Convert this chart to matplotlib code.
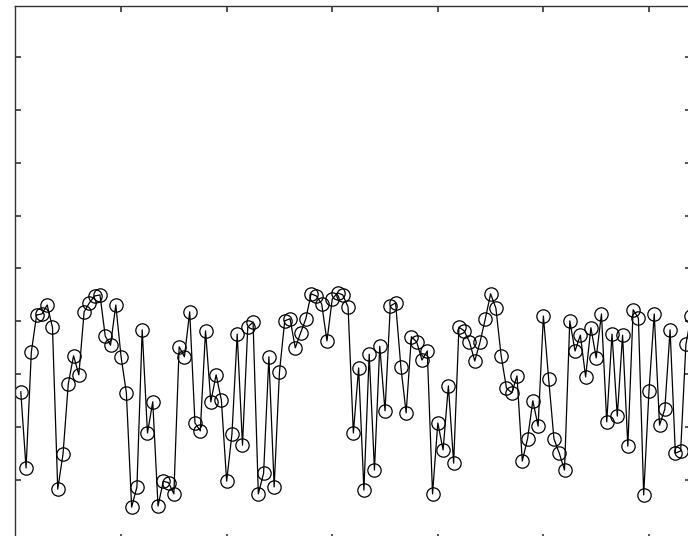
import numpy as np
import matplotlib
matplotlib.use('Agg')
import matplotlib.pyplot as plt

# sample values, one per index 1..128
values = [
    2.67, 1.23, 3.42, 4.12, 4.14, 4.31, 3.89, 0.83, 1.49, 2.82,
    3.35, 2.99, 4.18, 4.35, 4.48, 4.50, 3.72, 3.55, 4.31, 3.33,
    2.65, 0.49, 0.87, 3.84, 1.89, 2.48, 0.51, 0.98, 0.95, 0.74,
    3.52, 3.33, 4.18, 2.08, 1.93, 3.82, 2.48, 2.99, 2.51, 0.98,
    1.87, 3.76, 1.66, 3.89, 3.99, 0.74, 1.13, 3.33, 0.87, 3.04,
    4.01, 4.05, 3.50, 3.78, 4.05, 4.52, 4.48, 4.33, 3.63, 4.42,
    4.54, 4.50, 4.27, 1.89, 3.12, 0.81, 3.38, 1.19, 3.53, 2.31,
    4.29, 4.35, 3.14, 2.27, 3.71, 3.61, 3.27, 3.44, 0.74, 2.08,
    1.57, 2.78, 1.32, 3.89, 3.82, 3.61, 3.25, 3.61, 4.05, 4.52,
    4.25, 3.35, 2.74, 2.65, 2.97, 1.36, 1.78, 2.50, 2.02, 4.10,
    2.91, 1.78, 1.51, 1.19, 4.01, 3.44, 3.74, 2.95, 3.88, 3.31,
    4.14, 2.10, 3.76, 2.21, 3.74, 1.64, 4.22, 4.06, 0.72, 2.68,
    4.14, 2.04, 2.34, 3.84, 1.51, 1.55, 3.57, 4.10,
]
index = np.arange(1, len(values) + 1)

x_ticks = [20, 40, 60, 80, 100, 120]
y_ticks = [1, 2, 3, 4, 5, 6, 7, 8, 9]

fig = plt.figure(figsize=(6.88, 5.36), dpi=100)
# axes box runs slightly past the right and bottom edges of the canvas
ax = fig.add_axes([15.5 / 688, -4 / 536, 675.7 / 688, 534 / 536])

ax.plot(index, values, '-o', color='black', linewidth=0.9,
        markersize=9.6, markerfacecolor='none', markeredgecolor='black',
        markeredgewidth=0.9)

ax.set_xlim(0, 128)
ax.set_ylim(-0.132, 9.96)
ax.set_xticks(x_ticks)
ax.set_yticks(y_ticks)
ax.set_xticklabels([])
ax.set_yticklabels([])
ax.tick_params(direction='in', length=4.5, width=1.2, color='#333333',
               top=True, right=True, bottom=True, left=True)
for sp in ax.spines.values():
    sp.set_color('#333333')
    sp.set_linewidth(1.0)

fig.savefig('out.png', dpi=100)
